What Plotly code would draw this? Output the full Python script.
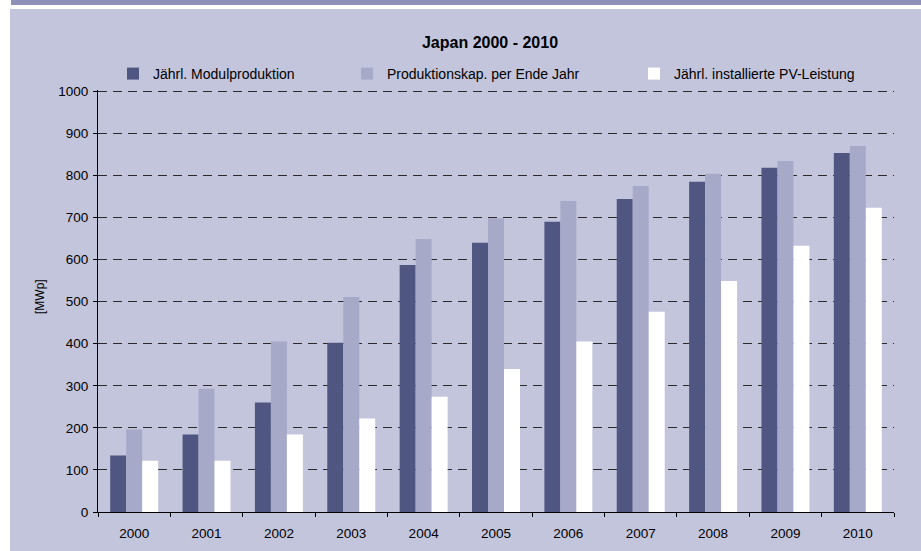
import plotly.graph_objects as go

# data (MWp)
years = ["2000", "2001", "2002", "2003", "2004", "2005", "2006", "2007", "2008", "2009", "2010"]
modulproduktion = [134, 184, 260, 402, 587, 640, 690, 744, 785, 818, 853]
produktionskap = [196, 293, 405, 511, 649, 698, 739, 775, 804, 834, 870]
installiert = [122, 122, 184, 222, 274, 340, 405, 476, 549, 633, 723]

names = ["Jährl. Modulproduktion", "Produktionskap. per Ende Jahr", "Jährl. installierte PV-Leistung"]
colors = ["#4f5681", "#a6aac8", "#ffffff"]
series = [modulproduktion, produktionskap, installiert]

W, H = 921, 551
bg = "#c3c5dc"
font = "Liberation Sans, Arial, sans-serif"

fig = go.Figure()

# each series gets its own legend so they can be placed like the original
legend_ids = ["legend", "legend2", "legend3"]
text_start = [153, 387, 674]

for name, vals, col, lid in zip(names, series, colors, legend_ids):
    fig.add_trace(go.Bar(
        x=years,
        y=vals,
        name=name,
        marker=dict(color=col, line=dict(width=0)),
        legend=lid,
        showlegend=True,
    ))

legend_style = dict(
    xref="container", yref="container",
    xanchor="left", yanchor="middle",
    y=1 - 74 / H,
    bgcolor="rgba(0,0,0,0)",
    font=dict(family=font, size=14, color="#000"),
    itemwidth=30,
    visible=True,
)
legends = {}
for lid, tx in zip(legend_ids, text_start):
    legends[lid] = dict(legend_style, x=(tx - 40) / W)

fig.update_layout(showlegend=True, **legends)

# plot area in pixels: x 98..894, y 90..512 (range goes a bit over 1000
# so the top gridline is not clipped)
l, r, t, b = 98, W - 894, 90, H - 512
pw = W - l - r
ph = H - t - b

def px_x(v):
    return (v - l) / pw

def px_y(v):
    return (H - b - v) / ph

# lavender panel + dark strip on top (original is a cropped slide)
fig.add_shape(type="rect", xref="paper", yref="paper",
              x0=px_x(10), x1=px_x(W + 5), y0=px_y(H + 5), y1=px_y(9),
              fillcolor=bg, line=dict(width=0), layer="below")
fig.add_shape(type="rect", xref="paper", yref="paper",
              x0=px_x(11), x1=px_x(W + 5), y0=px_y(5), y1=px_y(-5),
              fillcolor="#8e91b6", line=dict(width=0), layer="below")

# y axis title as annotation, standoff puts it in odd places
fig.add_annotation(
    text="[MWp]", textangle=-90,
    xref="paper", yref="paper",
    x=px_x(40), y=px_y(297),
    xanchor="center", yanchor="middle",
    showarrow=False,
    font=dict(family=font, size=12, color="#000"),
)

fig.update_layout(
    width=W, height=H,
    margin=dict(l=l, r=r, t=t, b=b, autoexpand=False),
    paper_bgcolor="#ffffff",
    plot_bgcolor=bg,
    barmode="group",
    bargap=0.337,
    bargroupgap=0,
    font=dict(family=font, size=13, color="#000"),
    title=dict(
        text="<b>Japan 2000 - 2010</b>",
        xref="container", yref="container",
        x=490 / W, y=1 - 42 / H,
        xanchor="center", yanchor="middle",
        font=dict(family=font, size=16, color="#000"),
    ),
)

fig.update_xaxes(
    type="category",
    showline=True, linecolor="#000", linewidth=1,
    ticks="outside", ticklen=4, tickcolor="#000",
    tickson="boundaries",
    showgrid=False, zeroline=False,
    tickfont=dict(size=13.5),
    ticklabelstandoff=9,
)

fig.update_yaxes(
    range=[0, 1003],
    tickvals=[0, 100, 200, 300, 400, 500, 600, 700, 800, 900, 1000],
    showline=True, linecolor="#000", linewidth=1,
    ticks="outside", ticklen=4, tickcolor="#000",
    showgrid=True, gridcolor="#2a2a2a", gridwidth=1.2, griddash="9px,6px",
    zeroline=False,
    tickfont=dict(size=13.5),
    ticklabelstandoff=2,
)

# page has an 8px body margin by default, drop it
fig.write_html("out.html", config={"displayModeBar": False},
               post_script="document.body.style.margin='0';")
